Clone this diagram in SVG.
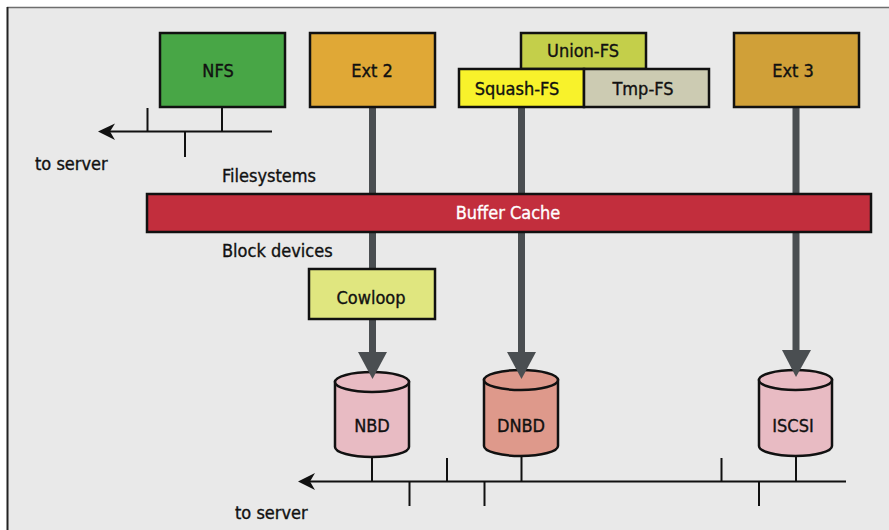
<svg xmlns="http://www.w3.org/2000/svg" width="889" height="530" viewBox="0 0 889 530">
<style>
text{font-family:"Liberation Sans Narrow","DejaVu Sans Condensed","Liberation Sans",sans-serif;font-stretch:condensed;font-size:18px;fill:#111;stroke:#111;stroke-width:0.35;}
.c{text-anchor:middle;}
.box{stroke:#111;stroke-width:2.5;}
.net{stroke:#111;stroke-width:2;fill:none;}
.pipe{stroke:#4a4e51;stroke-width:7;fill:none;}
.head{fill:#4a4e51;}
.tip{fill:#111;}
</style>
<rect x="0" y="0" width="889" height="530" fill="#ffffff"/>
<rect x="7" y="7" width="882" height="523" fill="#e9e9e9"/>
<line x1="7" y1="7.5" x2="889" y2="7.5" stroke="#6e6e6e" stroke-width="1.5"/>
<line x1="7.5" y1="7" x2="7.5" y2="530" stroke="#222" stroke-width="2"/>

<g id="nbd">
<path class="box" d="M335,382 V447 A37,10 0 0 0 409,447 V382 Z" fill="#e8bbc3"/>
<ellipse class="box" cx="372" cy="382" rx="37" ry="10" fill="#e8bbc3"/>
<text class="c" x="372" y="432">NBD</text>
</g>
<g id="dnbd">
<path class="box" d="M484,380 V446 A37,10 0 0 0 558,446 V380 Z" fill="#de998b"/>
<ellipse class="box" cx="521" cy="380" rx="37" ry="10" fill="#de998b"/>
<text class="c" x="521" y="432">DNBD</text>
</g>
<g id="iscsi">
<path class="box" d="M759,380 V446 A36.5,10 0 0 0 832,446 V380 Z" fill="#e8bbc3"/>
<ellipse class="box" cx="795.5" cy="380" rx="36.5" ry="10" fill="#e8bbc3"/>
<text class="c" x="793" y="432">ISCSI</text>
</g>

<g id="connectors">
<line class="pipe" x1="372.5" y1="107" x2="372.5" y2="356"/>
<polygon class="head" points="358,352 387,352 372.5,379"/>
<line class="pipe" x1="521.5" y1="107" x2="521.5" y2="356"/>
<polygon class="head" points="507,352 536,352 521.5,379"/>
<line class="pipe" x1="796" y1="107" x2="796" y2="354"/>
<polygon class="head" points="782,350 811,350 796,377"/>

<line class="net" x1="108" y1="131.5" x2="272" y2="131.5"/>
<polygon class="tip" points="98,131.5 115,123.5 110,131.5 115,140"/>
<line class="net" x1="222" y1="107" x2="222" y2="131.5"/>
<line class="net" x1="147.5" y1="108" x2="147.5" y2="131.5"/>
<line class="net" x1="185" y1="131.5" x2="185" y2="157"/>

<line class="net" x1="308" y1="481.5" x2="846" y2="481.5"/>
<polygon class="tip" points="298,481.5 315,473 310,481.5 315,490"/>
<line class="net" x1="372" y1="457" x2="372" y2="481.5"/>
<line class="net" x1="521.5" y1="456" x2="521.5" y2="481.5"/>
<line class="net" x1="796" y1="456" x2="796" y2="481.5"/>
<line class="net" x1="447" y1="458" x2="447" y2="481.5"/>
<line class="net" x1="721.5" y1="458" x2="721.5" y2="481.5"/>
<line class="net" x1="409.5" y1="481.5" x2="409.5" y2="506"/>
<line class="net" x1="484.5" y1="481.5" x2="484.5" y2="506"/>
<line class="net" x1="759" y1="481.5" x2="759" y2="506"/>
</g>

<g id="nfs">
<rect class="box" x="160" y="33" width="125" height="74" fill="#48a646"/>
<text class="c" x="218" y="77">NFS</text>
</g>
<g id="ext2">
<rect class="box" x="310" y="33" width="125" height="74" fill="#e0a836"/>
<text class="c" x="372" y="77">Ext 2</text>
</g>
<g id="unionfs">
<rect class="box" x="521" y="33" width="125" height="36" fill="#c4cf4a"/>
<text class="c" x="583" y="57">Union-FS</text>
</g>
<g id="squashfs">
<rect class="box" x="459" y="69" width="125" height="38" fill="#f8f22b"/>
<text class="c" x="517" y="95">Squash-FS</text>
</g>
<g id="tmpfs">
<rect class="box" x="584" y="69" width="125" height="38" fill="#cccbb2"/>
<text class="c" x="643" y="95">Tmp-FS</text>
</g>
<g id="ext3">
<rect class="box" x="734" y="33" width="125" height="74" fill="#d0a038"/>
<text class="c" x="793" y="77">Ext 3</text>
</g>
<g id="buffercache">
<rect class="box" x="147" y="194" width="724" height="38" fill="#c22e3d"/>
<text class="c" x="508" y="219" style="fill:#ffffff;stroke:#ffffff">Buffer Cache</text>
</g>
<g id="cowloop">
<rect class="box" x="309" y="269" width="126" height="50" fill="#e0e67f"/>
<text class="c" x="371" y="304">Cowloop</text>
</g>

<g id="labels">
<text x="222" y="182">Filesystems</text>
<text x="222" y="257">Block devices</text>
<text x="35" y="170">to server</text>
<text x="235" y="519">to server</text>
</g>
</svg>
